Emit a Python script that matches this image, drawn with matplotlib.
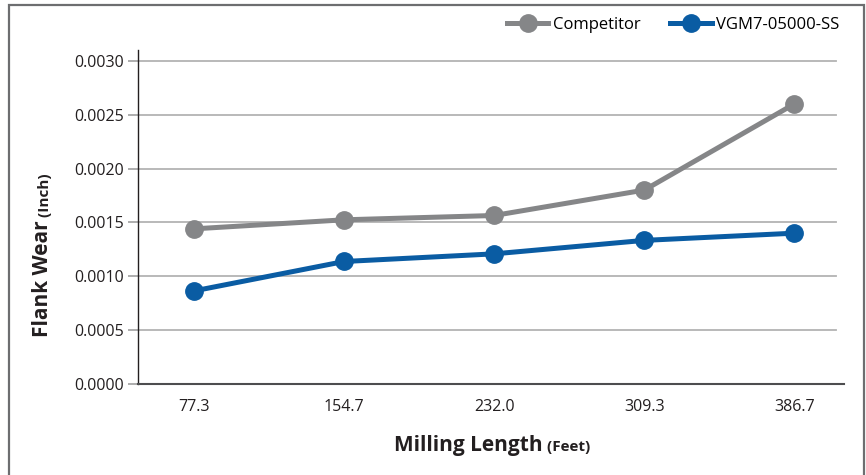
import matplotlib
matplotlib.use("Agg")
import matplotlib.pyplot as plt
from matplotlib.patches import Rectangle
from matplotlib.lines import Line2D

categories = ["77.3", "154.7", "232.0", "309.3", "386.7"]
competitor = [0.00144, 0.001524, 0.001564, 0.0018, 0.0026]
vgm = [0.000864, 0.001137, 0.001208, 0.001333, 0.0014]
yticks = [0.0, 0.0005, 0.0010, 0.0015, 0.0020, 0.0025, 0.0030]
series_names = ["Competitor", "VGM7-05000-SS"]
series_colors = ["#858688", "#0a5ca3"]

plt.rcParams['font.family'] = ['Open Sans', 'DejaVu Sans']

W, H = 866, 475
fig = plt.figure(figsize=(W / 100, H / 100), dpi=100)
ax = fig.add_axes([138 / W, 1 - 384 / H, (844 - 138) / W, (384 - 50) / H])

x = list(range(len(categories)))
for vals, name, col in zip([competitor, vgm], series_names, series_colors):
    ax.plot(x, vals, color=col, lw=3.6, marker='o', markersize=12.5,
            label=name, zorder=3, solid_capstyle='round')

ax.set_xlim(-0.373, 4.33)
ax.set_ylim(0, 0.0031)
for yv in yticks[1:]:
    ax.axhline(yv, xmin=0, xmax=0.989, color='#b3b3b3', lw=1.3, zorder=1)

ax.set_yticks(yticks)
ax.set_yticklabels([f"{v:.4f}" for v in yticks], fontsize=11.5, color='#231f20')
ax.set_xticks(x)
ax.set_xticklabels(categories, fontsize=11.5, color='#231f20')
ax.tick_params(axis='y', length=7, width=1.2, color='#a0a0a0', pad=3)
ax.tick_params(axis='x', length=0, pad=11)

for s in ['top', 'right']:
    ax.spines[s].set_visible(False)
ax.spines['left'].set_color('#231f20')
ax.spines['left'].set_linewidth(1.0)
ax.spines['bottom'].set_color('#4d4d4f')
ax.spines['bottom'].set_linewidth(1.5)

# Figure border
fig.patches.append(Rectangle((8.5 / W, -0.05), (864 - 8.5) / W, 1.05 - 4.5 / H,
                             transform=fig.transFigure, fill=False,
                             edgecolor='#6d6e70', lw=1.6))

# Legend
handles = [Line2D([0], [0], color=c, lw=3.6, marker='o', markersize=12.5)
           for c in series_colors]
fig.legend(handles, series_names, loc='center right',
           bbox_to_anchor=(846 / W, 1 - 25 / H), ncol=2, frameon=False,
           fontsize=12, handlelength=2.5, handletextpad=0.25,
           columnspacing=1.8, borderaxespad=0)

# X label (mixed sizes)
fig.canvas.draw()
r = fig.canvas.get_renderer()
t1 = fig.text(0, 1 - 445 / H, "Milling Length", fontsize=15, fontweight='bold',
              color='#231f20', va='center', ha='left')
t2 = fig.text(0, 1 - 447 / H, " (Feet)", fontsize=11, fontweight='bold',
              color='#231f20', va='center', ha='left')
w1 = t1.get_window_extent(r).width
w2 = t2.get_window_extent(r).width
cx = 492
start = cx - (w1 + w2) / 2
t1.set_x(start / W)
t2.set_x((start + w1) / W)

# Y label (mixed sizes, rotated)
s1 = fig.text(43 / W, 0, "Flank Wear", fontsize=15, fontweight='bold',
              color='#231f20', rotation=90, ha='center', va='bottom')
s2 = fig.text(45 / W, 0, " (Inch)", fontsize=11, fontweight='bold',
              color='#231f20', rotation=90, ha='center', va='bottom')
h1 = s1.get_window_extent(r).height
h2 = s2.get_window_extent(r).height
cy = H - 255
bottom = cy - (h1 + h2) / 2
s1.set_y(bottom / H)
s2.set_y((bottom + h1) / H)

fig.savefig("out.png", dpi=100)
